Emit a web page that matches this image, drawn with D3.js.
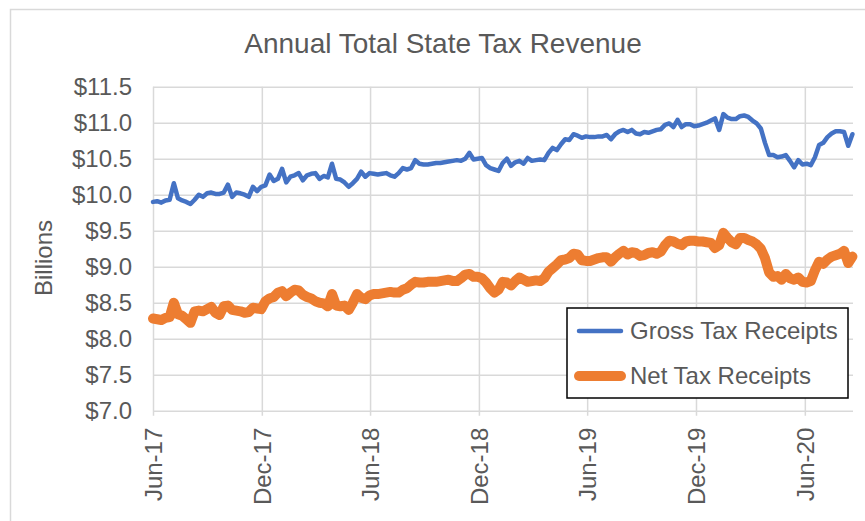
<!DOCTYPE html>
<html><head><meta charset="utf-8">
<script src="https://cdn.jsdelivr.net/npm/d3@7"></script>
<style>
html,body{margin:0;padding:0;background:#fff;}
text{font-family:"Liberation Sans",Arial,sans-serif;fill:#595959;}
</style></head>
<body><svg id="chart" width="865" height="521"></svg>
<script>
// ---- data ----
const title = "Annual Total State Tax Revenue";
const yAxisTitle = "Billions";
const seriesNames = ["Gross Tax Receipts", "Net Tax Receipts"];
const startDate = "2017-06-01";   // first weekly observation
const stepDays = 7;
const xTickDates = ["2017-06-01","2017-12-01","2018-06-01","2018-12-01","2019-06-01","2019-12-01","2020-06-01"];
const yTicks = [7.0,7.5,8.0,8.5,9.0,9.5,10.0,10.5,11.0,11.5];
const grossValues = [
9.90,9.91,9.89,9.92,9.93,10.16,9.95,9.92,9.90,9.87,
9.93,10.00,9.97,10.02,10.03,10.01,10.01,10.03,10.14,9.97,
10.03,10.02,10.00,9.97,10.11,10.05,10.11,10.13,10.28,10.19,
10.22,10.36,10.17,10.25,10.27,10.30,10.20,10.27,10.29,10.30,
10.22,10.26,10.24,10.43,10.22,10.21,10.17,10.11,10.16,10.22,
10.32,10.25,10.30,10.29,10.28,10.29,10.30,10.27,10.25,10.30,
10.37,10.35,10.37,10.48,10.43,10.42,10.42,10.43,10.44,10.44,
10.45,10.46,10.47,10.48,10.47,10.50,10.58,10.49,10.50,10.51,
10.41,10.37,10.35,10.33,10.44,10.50,10.40,10.45,10.47,10.43,
10.51,10.47,10.48,10.49,10.48,10.58,10.65,10.62,10.70,10.77,
10.76,10.84,10.82,10.79,10.81,10.80,10.80,10.81,10.81,10.83,
10.77,10.84,10.88,10.90,10.87,10.90,10.85,10.84,10.87,10.86,
10.88,10.90,10.91,10.97,10.99,10.94,11.04,10.94,10.98,10.98,
10.95,10.96,10.98,11.00,11.03,11.06,10.90,11.12,11.07,11.05,
11.05,11.09,11.10,11.08,11.03,10.99,10.92,10.72,10.55,10.55,
10.52,10.53,10.55,10.47,10.38,10.48,10.42,10.43,10.41,10.52,
10.69,10.72,10.80,10.85,10.88,10.88,10.87,10.68,10.84];
const netValues = [
8.28,8.27,8.26,8.29,8.30,8.50,8.34,8.32,8.27,8.22,
8.38,8.39,8.38,8.41,8.44,8.36,8.33,8.45,8.46,8.40,
8.39,8.38,8.36,8.37,8.43,8.42,8.41,8.52,8.56,8.58,
8.64,8.66,8.59,8.64,8.68,8.67,8.61,8.58,8.56,8.52,
8.50,8.49,8.45,8.62,8.46,8.45,8.46,8.40,8.50,8.62,
8.57,8.55,8.60,8.62,8.62,8.63,8.64,8.65,8.64,8.64,
8.68,8.70,8.75,8.79,8.78,8.78,8.79,8.79,8.79,8.80,
8.81,8.82,8.80,8.80,8.84,8.89,8.90,8.86,8.86,8.84,
8.78,8.70,8.64,8.68,8.79,8.78,8.74,8.80,8.85,8.82,
8.79,8.80,8.81,8.80,8.84,8.93,8.98,9.03,9.09,9.10,
9.12,9.18,9.17,9.09,9.08,9.08,9.10,9.12,9.13,9.13,
9.07,9.13,9.18,9.22,9.17,9.20,9.19,9.15,9.16,9.19,
9.20,9.18,9.21,9.30,9.36,9.35,9.32,9.30,9.35,9.36,
9.36,9.35,9.35,9.34,9.33,9.26,9.30,9.47,9.40,9.34,
9.31,9.40,9.40,9.37,9.35,9.31,9.25,9.12,8.92,8.86,
8.87,8.82,8.90,8.84,8.82,8.85,8.79,8.78,8.80,8.95,
9.07,9.04,9.10,9.14,9.16,9.18,9.22,9.05,9.14];
const colors = ["#4472C4", "#ED7D31"];

// ---- chart ----
const parse = d3.timeParse("%Y-%m-%d");
const t0 = parse(startDate);
const dates = grossValues.map((_, i) => d3.timeDay.offset(t0, i * stepDays));
const svg = d3.select("#chart");
const L = 153, R = 853, T = 86.7, B = 410.7;
const x = d3.scaleTime().domain([parse("2017-06-01"), parse("2020-08-21")]).range([L, R]);
const y = d3.scaleLinear().domain([7, 11.5]).range([B, T]);
const grid = "#d9d9d9";

// outer chart border
svg.append("rect").attr("x", 10.5).attr("y", 9.5).attr("width", 900).attr("height", 600)
  .attr("fill", "#fff").attr("stroke", grid).attr("stroke-width", 1.5);

// title
svg.append("text").attr("x", 443).attr("y", 53).attr("text-anchor", "middle")
  .style("font-size", "28px").text(title);

// horizontal gridlines
const yGrid = svg.append("g").attr("transform", `translate(${L},0)`)
  .call(d3.axisLeft(y).tickValues(yTicks).tickSize(-(R - L)).tickFormat(""));
yGrid.select(".domain").remove();
yGrid.selectAll("line").attr("stroke", grid).attr("stroke-width", 1.5);

// vertical gridlines with tick marks below the axis
const xTicks = xTickDates.map(parse);
const xGrid = svg.append("g").attr("transform", `translate(0,${B + 5})`)
  .call(d3.axisBottom(x).tickValues(xTicks).tickSize(-(B + 5 - T)).tickFormat(""));
xGrid.select(".domain").remove();
xGrid.selectAll("line").attr("stroke", grid).attr("stroke-width", 1.5);

// y tick labels
const yAx = svg.append("g").attr("transform", `translate(${L},0)`)
  .call(d3.axisLeft(y).tickValues(yTicks).tickSize(0).tickPadding(21)
    .tickFormat(d => "$" + d.toFixed(1)));
yAx.select(".domain").remove();
yAx.selectAll("text").style("font-size", "24px").attr("fill", "#595959")
  .style("font-family", '"Liberation Sans",Arial,sans-serif');

// x tick labels (rotated)
const fmt = d3.timeFormat("%b-%y");
const xAx = svg.append("g").attr("transform", `translate(0,${B})`)
  .call(d3.axisBottom(x).tickValues(xTicks).tickSize(0).tickFormat(fmt));
xAx.select(".domain").remove();
xAx.selectAll("text").style("font-size", "24px").attr("fill", "#595959")
  .style("font-family", '"Liberation Sans",Arial,sans-serif')
  .attr("text-anchor", "end").attr("transform", "translate(0,17) rotate(-90)")
  .attr("x", 0).attr("y", 0).attr("dy", "0.35em");

// y axis title
svg.append("text").attr("transform", "translate(44,258) rotate(-90)")
  .attr("text-anchor", "middle").attr("dy", "0.35em").style("font-size", "24px").text(yAxisTitle);

// lines
const line = d3.line().x((d, i) => x(dates[i])).y(d => y(d));
svg.append("path").datum(netValues).attr("d", line).attr("fill", "none")
  .attr("stroke", colors[1]).attr("stroke-width", 10)
  .attr("stroke-linejoin", "round").attr("stroke-linecap", "round");
svg.append("path").datum(grossValues).attr("d", line).attr("fill", "none")
  .attr("stroke", colors[0]).attr("stroke-width", 4.5)
  .attr("stroke-linejoin", "round").attr("stroke-linecap", "round");

// legend
const lg = svg.append("g");
lg.append("rect").attr("x", 567).attr("y", 308).attr("width", 281).attr("height", 90)
  .attr("fill", "#fff").attr("stroke", "#000").attr("stroke-width", 1.5);
const lw = [4.5, 10], ly = [331, 376], ty = [339, 384];
seriesNames.forEach((n, i) => {
  lg.append("line").attr("x1", 579).attr("x2", 621).attr("y1", ly[i]).attr("y2", ly[i])
    .attr("stroke", colors[i]).attr("stroke-width", lw[i]).attr("stroke-linecap", "round");
  lg.append("text").attr("x", 630).attr("y", ty[i]).style("font-size", "24px").text(n);
});
</script></body></html>
